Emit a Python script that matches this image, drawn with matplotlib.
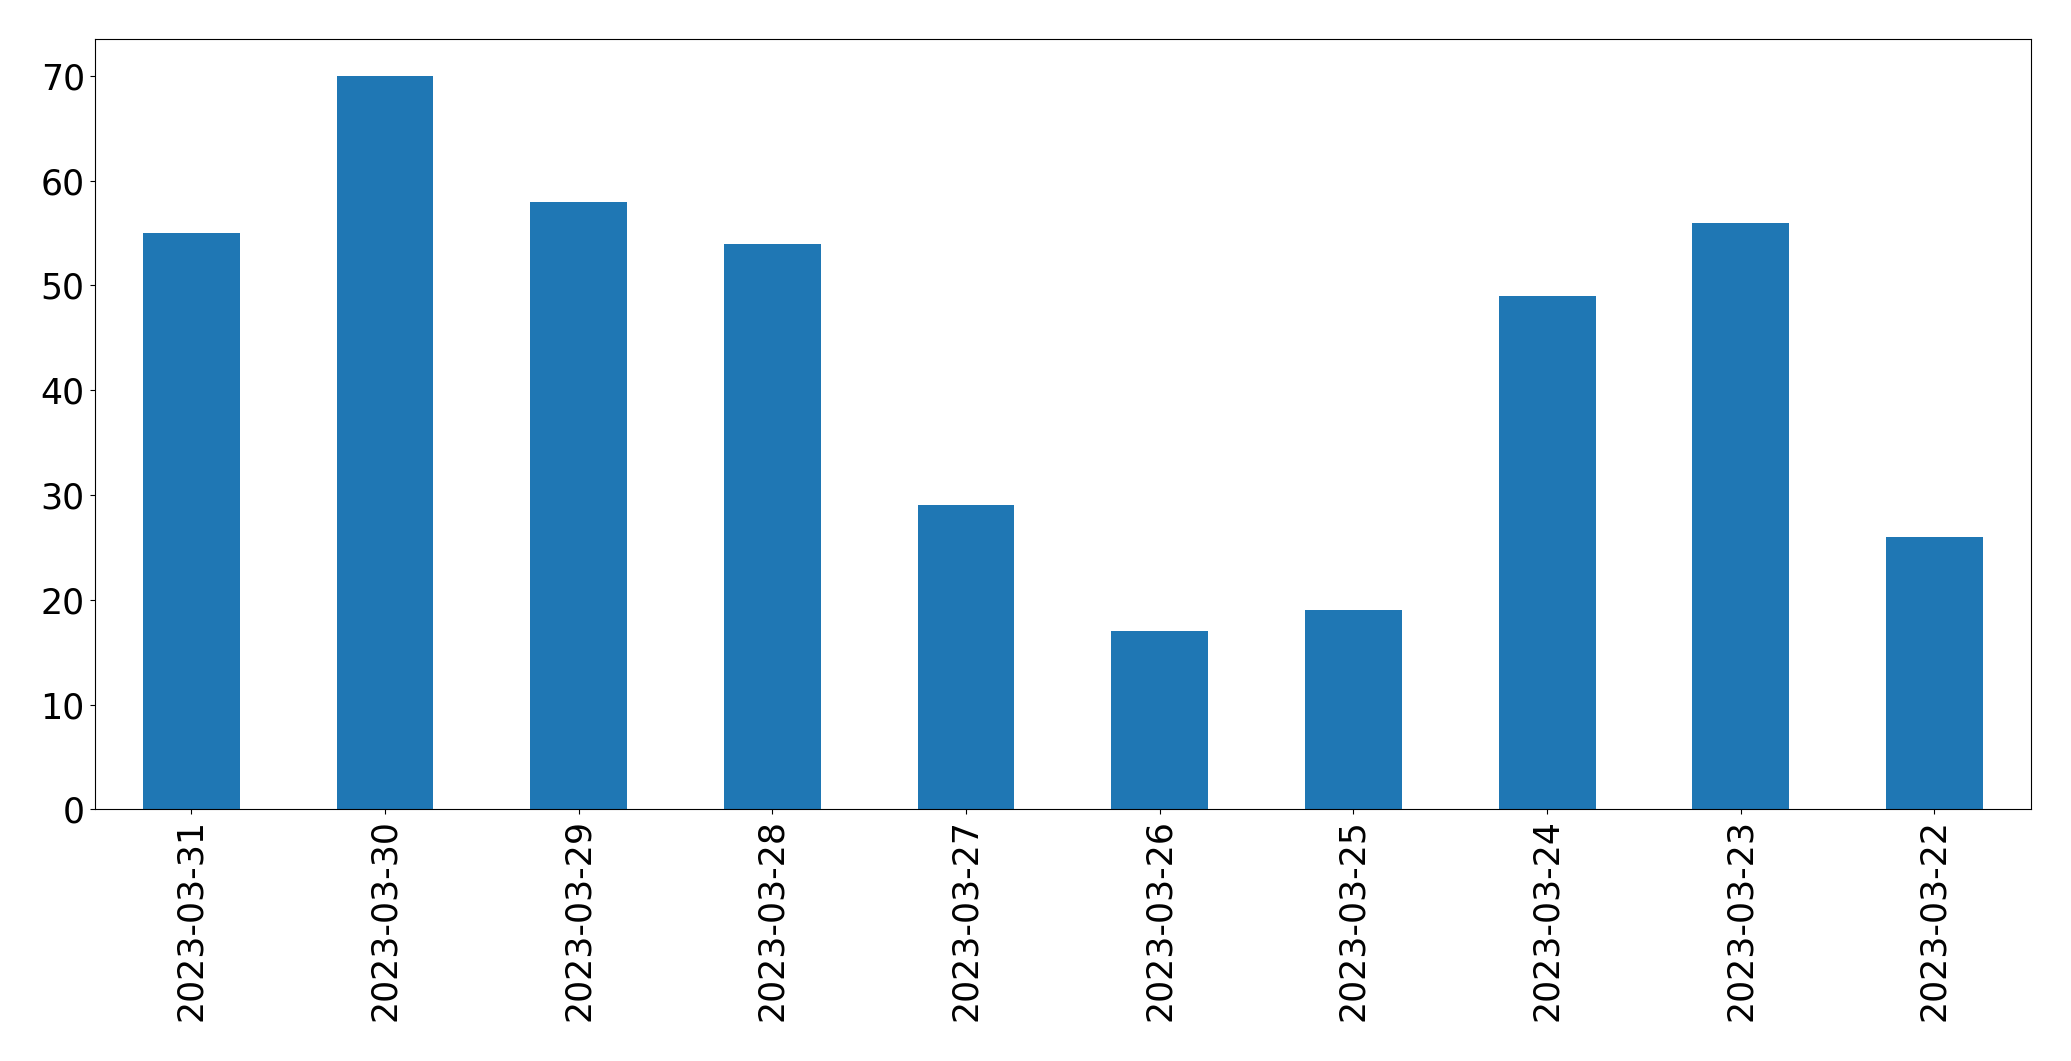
import matplotlib
matplotlib.use("Agg")
import matplotlib.pyplot as plt
import pandas as pd

dates = ["2023-03-31", "2023-03-30", "2023-03-29", "2023-03-28", "2023-03-27",
         "2023-03-26", "2023-03-25", "2023-03-24", "2023-03-23", "2023-03-22"]
counts = [55, 70, 58, 54, 29, 17, 19, 49, 56, 26]

W, H = 2071, 1061
fig = plt.figure(figsize=(W / 100, H / 100), dpi=100)
ax = fig.add_axes([94.5 / W, 1 - 809.3 / H, (2031.3 - 94.5) / W, (809.3 - 39.3) / H])

s = pd.Series(counts, index=dates)
s.plot(kind="bar", ax=ax, color="#1f77b4", width=0.5)
ax.tick_params(axis="both", labelsize=25)
ax.set_xlabel("")

fig.savefig("out.png", dpi=100)
